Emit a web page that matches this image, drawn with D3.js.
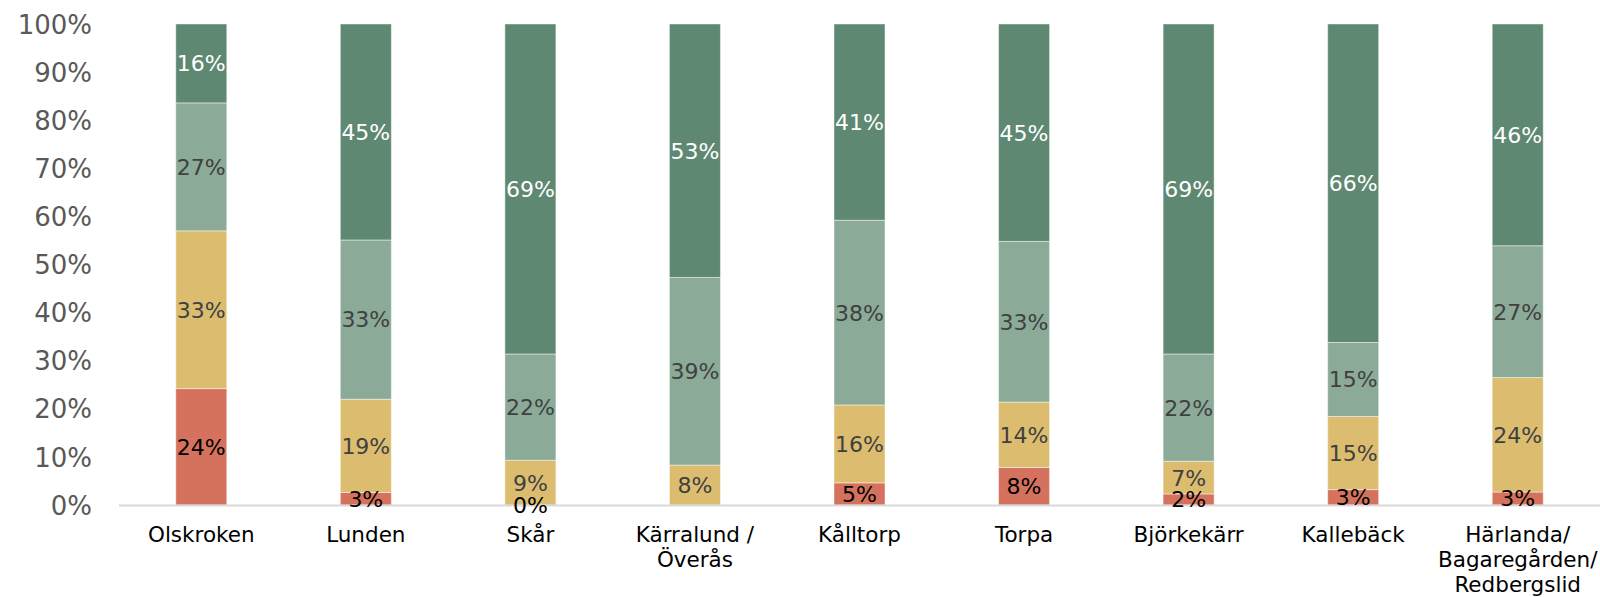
<!DOCTYPE html>
<html>
<head>
<meta charset="utf-8">
<script src="https://cdn.jsdelivr.net/npm/d3@7"></script>
<style>
  body { margin: 0; background: #fff; }
  svg { display: block; font-family: "DejaVu Sans", Verdana, sans-serif; }
</style>
</head>
<body>
<div id="chart"></div>
<script>
// categories (line breaks as in the original axis labels)
var categories = [
    ["Olskroken"],
    ["Lunden"],
    ["Skår"],
    ["Kärralund /", "Överås"],
    ["Kålltorp"],
    ["Torpa"],
    ["Björkekärr"],
    ["Kallebäck"],
    ["Härlanda/", "Bagaregården/", "Redbergslid"]
];

// series values in percent, bottom to top
var red       = [24.2, 2.6, 0,    null, 4.6, 7.8, 2.3, 3.2, 2.7];
var yellow    = [32.8, 19.4, 9.3, 8.3, 16.2, 13.6, 6.8, 15.2, 23.8];
var lightGreen= [26.6, 33.1, 22.1, 39.0, 38.4, 33.4, 22.3, 15.4, 27.4];
var darkGreen = [16.4, 44.9, 68.6, 52.7, 40.8, 45.2, 68.6, 66.2, 46.1];

var yTicks = [0, 10, 20, 30, 40, 50, 60, 70, 80, 90, 100];

var series = [
    {values: red,        fill: "#d5725d", text: "#000000"},
    {values: yellow,     fill: "#dcbd70", text: "#404040"},
    {values: lightGreen, fill: "#8bab98", text: "#404040"},
    {values: darkGreen,  fill: "#5f8873", text: "#ffffff"}
];

var w = 1600, h = 597;
var plotLeft = 119, plotRight = 1600, plotTop = 24, plotBottom = 505;

var svg = d3.select("#chart").append("svg")
    .attr("width", w)
    .attr("height", h);

var x = d3.scaleBand()
    .domain(d3.range(categories.length))
    .range([plotLeft, plotRight])
    .paddingInner(0.69)
    .paddingOuter(0.345);

var y = d3.scaleLinear()
    .domain([0, 100])
    .range([plotBottom, plotTop]);

// y axis labels
var yAxis = d3.axisLeft(y)
    .tickValues(yTicks)
    .tickSize(0)
    .tickPadding(0)
    .tickFormat(function(d) { return d + "%"; });

var yg = svg.append("g")
    .attr("transform", "translate(92,0)")
    .call(yAxis);
yg.select(".domain").remove();
yg.selectAll("text")
    .attr("font-size", "26px")
    .attr("font-family", "DejaVu Sans, Verdana, sans-serif")
    .attr("fill", "#595959")
    .attr("dy", "0.35em");

// stacked bars
var layers = svg.append("g");
categories.forEach(function(c, i) {
    var base = 0;
    series.forEach(function(s) {
        var v = s.values[i];
        var val = v === null ? 0 : v;
        var y0 = base, y1 = base + val;
        base = y1;
        if (val > 0) {
            layers.append("rect")
                .attr("x", x(i))
                .attr("width", x.bandwidth())
                .attr("y", y(y1))
                .attr("height", y(y0) - y(y1))
                .attr("fill", s.fill)
                .attr("stroke", "#ffffff")
                .attr("stroke-opacity", 0.45)
                .attr("stroke-width", 1);
        }
        if (v !== null) {
            s.labels = s.labels || [];
            s.labels.push({i: i, v: v, mid: (y0 + y1) / 2});
        }
    });
});

// baseline
svg.append("line")
    .attr("x1", plotLeft)
    .attr("x2", plotRight)
    .attr("y1", y(0) + 0.5)
    .attr("y2", y(0) + 0.5)
    .attr("stroke", "#d9d9d9")
    .attr("stroke-width", 2);

// data labels
series.forEach(function(s) {
    svg.append("g").selectAll("text")
        .data(s.labels)
        .enter()
        .append("text")
        .attr("x", function(d) { return x(d.i) + x.bandwidth() / 2; })
        .attr("y", function(d) { return y(d.mid); })
        .attr("dy", "0.36em")
        .attr("text-anchor", "middle")
        .attr("font-size", "22px")
        .attr("fill", s.text)
        .text(function(d) { return Math.round(d.v) + "%"; });
});

// category labels
var cat = svg.append("g").selectAll("text")
    .data(categories)
    .enter()
    .append("text")
    .attr("text-anchor", "middle")
    .attr("font-size", "21.5px")
    .attr("fill", "#000000")
    .attr("x", function(d, i) { return x(i) + x.bandwidth() / 2; })
    .attr("y", 542);

cat.selectAll("tspan")
    .data(function(d) { return d; })
    .enter()
    .append("tspan")
    .attr("x", function() { return d3.select(this.parentNode).attr("x"); })
    .attr("dy", function(d, j) { return j === 0 ? 0 : 25; })
    .text(function(d) { return d; });
</script>
</body>
</html>
